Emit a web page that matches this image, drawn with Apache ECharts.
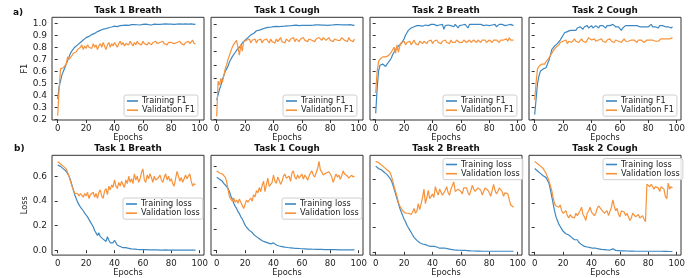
<!DOCTYPE html>
<html><head><meta charset="utf-8">
<script src="https://cdn.jsdelivr.net/npm/echarts@6/dist/echarts.min.js"></script>
<style>html,body{margin:0;padding:0;background:#fff}#c{width:697px;height:278px}</style>
</head><body><div id="c"></div>
<script>
// ---------- DATA ----------
const panelTitles = ['Task 1 Breath', 'Task 1 Cough', 'Task 2 Breath', 'Task 2 Cough'];
const xTicks = [0, 20, 40, 60, 80, 100];
const f1TicksA = [0.2, 0.3, 0.4, 0.5, 0.6, 0.7, 0.8, 0.9, 1.0];
const f1TicksB = [0.3, 0.4, 0.5, 0.6, 0.7, 0.8, 0.9, 1.0];
const lossTicksA = [0.0, 0.2, 0.4, 0.6];
const lossTicksB = [0.0, 0.2, 0.4, 0.6, 0.8];

const t1bF1Train = [0.37,0.47,0.52,0.57,0.60,0.63,0.66,0.69,0.72,0.75,
 0.77,0.78,0.80,0.81,0.82,0.83,0.84,0.855,0.86,0.87,
 0.88,0.885,0.89,0.90,0.905,0.91,0.915,0.92,0.93,0.935,
 0.94,0.945,0.95,0.952,0.955,0.96,0.962,0.965,0.968,0.972,
 0.975,0.976,0.972,0.978,0.98,0.978,0.982,0.98,0.984,0.986,
 0.982,0.986,0.988,0.984,0.988,0.99,0.987,0.99,0.985,0.99,
 0.99,0.988,0.992,0.99,0.988,0.991,0.985,0.99,0.992,0.99,
 0.99,0.993,0.99,0.988,0.992,0.99,0.994,0.99,0.992,0.99,
 0.992,0.995,0.99,0.996,0.992,0.99,0.994,0.996,0.992,0.99,
 0.994,0.996,0.992,0.99,0.994,0.992,0.99,0.992];
const t1bF1Val = [0.23,0.45,0.62,0.61,0.63,0.64,0.66,0.72,0.70,0.71,
 0.73,0.75,0.74,0.76,0.78,0.77,0.80,0.82,0.78,0.81,
 0.79,0.82,0.80,0.81,0.79,0.83,0.80,0.82,0.78,0.81,
 0.83,0.80,0.84,0.81,0.78,0.82,0.84,0.80,0.83,0.81,
 0.84,0.82,0.80,0.83,0.85,0.82,0.84,0.81,0.83,0.84,
 0.82,0.85,0.83,0.81,0.84,0.82,0.85,0.83,0.84,0.82,
 0.85,0.83,0.84,0.82,0.84,0.83,0.82,0.84,0.83,0.85,
 0.83,0.82,0.84,0.83,0.85,0.83,0.84,0.82,0.84,0.83,
 0.84,0.85,0.83,0.82,0.84,0.83,0.85,0.83,0.84,0.82,
 0.84,0.83,0.85,0.83,0.84,0.86,0.83,0.83];
const t1cF1Train = [0.44,0.48,0.52,0.55,0.59,0.62,0.65,0.67,0.69,0.72,
 0.74,0.76,0.77,0.79,0.80,0.82,0.83,0.84,0.86,0.87,
 0.88,0.89,0.90,0.91,0.92,0.93,0.93,0.94,0.95,0.95,
 0.955,0.96,0.962,0.965,0.97,0.968,0.975,0.978,0.976,0.98,
 0.98,0.978,0.982,0.984,0.98,0.985,0.983,0.987,0.984,0.988,
 0.986,0.99,0.987,0.989,0.99,0.988,0.991,0.99,0.988,0.992,
 0.99,0.991,0.989,0.993,0.99,0.992,0.99,0.994,0.991,0.99,
 0.993,0.991,0.994,0.99,0.992,0.995,0.991,0.993,0.99,0.994,
 0.992,0.995,0.993,0.991,0.995,0.993,0.996,0.992,0.994,0.995,
 0.993,0.996,0.994,0.992,0.995,0.993,0.99,0.992];
const t1cF1Val = [0.32,0.58,0.55,0.60,0.57,0.62,0.67,0.70,0.74,0.77,
 0.80,0.83,0.85,0.86,0.88,0.89,0.77,0.85,0.80,0.87,
 0.86,0.88,0.87,0.89,0.86,0.88,0.87,0.89,0.86,0.88,
 0.87,0.89,0.86,0.88,0.87,0.89,0.88,0.86,0.89,0.87,
 0.88,0.86,0.89,0.87,0.88,0.90,0.87,0.88,0.86,0.89,
 0.88,0.87,0.89,0.88,0.90,0.87,0.89,0.88,0.87,0.89,
 0.88,0.90,0.88,0.89,0.87,0.89,0.90,0.88,0.89,0.87,
 0.89,0.88,0.90,0.89,0.88,0.90,0.89,0.88,0.89,0.90,
 0.88,0.89,0.87,0.89,0.90,0.88,0.89,0.88,0.90,0.89,
 0.88,0.89,0.87,0.90,0.88,0.89,0.87,0.89];
const t2bF1Train = [0.25,0.45,0.60,0.65,0.64,0.66,0.65,0.64,0.66,0.67,
 0.69,0.71,0.74,0.76,0.78,0.79,0.81,0.82,0.83,0.85,
 0.87,0.90,0.92,0.94,0.95,0.96,0.96,0.97,0.97,0.98,
 0.975,0.98,0.985,0.975,0.98,0.985,0.99,0.98,0.985,0.99,
 0.98,0.99,0.985,0.98,0.99,0.985,0.975,0.99,0.95,0.98,
 0.99,0.985,0.99,0.98,0.99,0.97,0.99,0.985,0.96,0.98,
 0.99,0.985,0.99,0.99,0.98,0.96,0.99,0.98,0.99,0.985,
 0.99,0.98,0.99,0.985,0.99,0.99,0.98,0.99,0.985,0.99,
 0.98,0.99,0.985,0.99,0.99,0.97,0.98,0.99,0.985,0.99,
 0.99,0.98,0.99,0.985,0.99,0.99,0.975,0.98];
const t2bF1Val = [0.42,0.60,0.68,0.70,0.71,0.72,0.71,0.72,0.72,0.73,
 0.74,0.76,0.77,0.80,0.75,0.82,0.76,0.81,0.84,0.83,
 0.85,0.82,0.84,0.83,0.85,0.82,0.84,0.86,0.83,0.84,
 0.82,0.85,0.84,0.83,0.85,0.84,0.83,0.85,0.84,0.86,
 0.83,0.85,0.84,0.86,0.84,0.85,0.83,0.85,0.84,0.86,
 0.84,0.85,0.83,0.86,0.84,0.85,0.84,0.86,0.85,0.84,
 0.85,0.84,0.86,0.85,0.84,0.85,0.86,0.84,0.85,0.86,
 0.85,0.84,0.86,0.85,0.84,0.86,0.85,0.86,0.84,0.85,
 0.86,0.85,0.84,0.86,0.85,0.86,0.85,0.84,0.86,0.85,
 0.86,0.85,0.87,0.85,0.88,0.86,0.85,0.86];
const t2cF1Train = [0.24,0.37,0.50,0.56,0.60,0.61,0.62,0.62,0.63,0.66,
 0.69,0.73,0.78,0.79,0.81,0.82,0.83,0.84,0.86,0.88,
 0.90,0.92,0.91,0.93,0.92,0.94,0.93,0.94,0.95,0.94,
 0.96,0.95,0.97,0.96,0.95,0.97,0.96,0.98,0.96,0.97,
 0.98,0.96,0.97,0.98,0.97,0.96,0.98,0.97,0.98,0.97,
 0.96,0.98,0.97,0.98,0.97,0.99,0.98,0.97,0.98,0.97,
 0.96,0.94,0.96,0.97,0.98,0.97,0.98,0.97,0.98,0.97,
 0.98,0.97,0.98,0.99,0.97,0.98,0.97,0.98,0.97,0.98,
 0.97,0.98,0.99,0.97,0.98,0.97,0.98,0.96,0.98,0.97,
 0.98,0.99,0.97,0.98,0.97,0.98,0.96,0.97];
const t2cF1Val = [0.36,0.51,0.62,0.64,0.65,0.66,0.65,0.66,0.68,0.69,
 0.71,0.73,0.74,0.77,0.78,0.80,0.81,0.82,0.84,0.83,
 0.85,0.84,0.86,0.83,0.85,0.86,0.84,0.85,0.87,0.85,
 0.86,0.84,0.85,0.87,0.85,0.86,0.84,0.86,0.88,0.89,
 0.86,0.85,0.87,0.85,0.84,0.86,0.85,0.87,0.85,0.86,
 0.84,0.86,0.85,0.87,0.85,0.86,0.84,0.86,0.87,0.85,
 0.86,0.84,0.85,0.87,0.85,0.86,0.85,0.84,0.86,0.85,
 0.86,0.85,0.84,0.86,0.85,0.86,0.85,0.84,0.85,0.86,
 0.85,0.86,0.85,0.86,0.87,0.85,0.86,0.85,0.86,0.87,
 0.86,0.87,0.86,0.87,0.88,0.87,0.88,0.88];

const t1bLossTrain = [0.69,0.68,0.68,0.67,0.66,0.65,0.64,0.62,0.60,0.57,
 0.53,0.49,0.45,0.42,0.39,0.37,0.35,0.34,0.32,0.30,
 0.29,0.27,0.25,0.23,0.22,0.19,0.16,0.15,0.12,0.14,
 0.11,0.12,0.09,0.10,0.07,0.11,0.08,0.06,0.05,0.06,
 0.08,0.06,0.04,0.04,0.03,0.03,0.02,0.02,0.02,0.015,
 0.015,0.01,0.01,0.012,0.008,0.008,0.006,0.01,0.005,0.004,
 0.004,0.003,0.004,0.003,0.003,0.002,0.003,0.002,0.002,0.002,
 0.002,0.002,0.001,0.002,0.001,0.001,0.002,0.001,0.001,0.001,
 0.001,0.001,0.001,0.001,0.001,0.001,0.001,0.001,0.001,0.001,
 0.001,0.001,0.001,0.001,0.001,0.001,0.001,0.001];
const t1bLossVal = [0.72,0.71,0.70,0.69,0.68,0.67,0.66,0.63,0.60,0.56,
 0.52,0.49,0.46,0.45,0.46,0.44,0.46,0.45,0.43,0.46,
 0.44,0.47,0.42,0.45,0.44,0.47,0.43,0.46,0.42,0.47,
 0.49,0.44,0.42,0.48,0.50,0.45,0.52,0.49,0.53,0.51,
 0.57,0.52,0.50,0.55,0.52,0.56,0.53,0.51,0.57,0.54,
 0.60,0.55,0.58,0.54,0.62,0.57,0.60,0.55,0.58,0.63,
 0.66,0.57,0.55,0.61,0.58,0.62,0.59,0.55,0.60,0.57,
 0.56,0.59,0.61,0.57,0.55,0.59,0.62,0.57,0.60,0.56,
 0.58,0.54,0.52,0.58,0.64,0.60,0.56,0.59,0.55,0.58,
 0.61,0.58,0.60,0.62,0.56,0.52,0.54,0.53];
const t1cLossTrain = [0.70,0.69,0.68,0.67,0.66,0.64,0.63,0.61,0.59,0.56,
 0.52,0.49,0.45,0.42,0.40,0.37,0.35,0.32,0.30,0.27,
 0.24,0.22,0.21,0.19,0.18,0.17,0.15,0.14,0.13,0.12,
 0.11,0.10,0.09,0.09,0.08,0.07,0.07,0.06,0.06,0.06,
 0.07,0.06,0.05,0.045,0.04,0.04,0.035,0.03,0.03,0.028,
 0.026,0.025,0.023,0.022,0.02,0.02,0.018,0.017,0.016,0.015,
 0.014,0.013,0.013,0.012,0.011,0.011,0.01,0.01,0.009,0.009,
 0.008,0.008,0.008,0.007,0.007,0.007,0.006,0.006,0.006,0.006,
 0.005,0.005,0.005,0.005,0.005,0.005,0.004,0.004,0.004,0.004,
 0.004,0.004,0.004,0.004,0.004,0.004,0.004,0.004];
const t1cLossVal = [0.76,0.75,0.74,0.74,0.73,0.72,0.70,0.66,0.58,0.51,
 0.49,0.47,0.50,0.46,0.48,0.45,0.49,0.46,0.47,0.40,
 0.44,0.48,0.46,0.45,0.50,0.47,0.53,0.51,0.57,0.55,
 0.60,0.56,0.62,0.66,0.56,0.63,0.69,0.61,0.60,0.65,
 0.72,0.66,0.64,0.70,0.67,0.63,0.66,0.71,0.73,0.69,
 0.68,0.71,0.66,0.74,0.76,0.70,0.68,0.72,0.69,0.71,
 0.73,0.68,0.72,0.70,0.67,0.71,0.74,0.76,0.72,0.70,
 0.74,0.78,0.85,0.77,0.75,0.72,0.71,0.74,0.73,0.75,
 0.73,0.70,0.65,0.69,0.73,0.70,0.72,0.68,0.71,0.76,
 0.73,0.72,0.71,0.69,0.70,0.72,0.70,0.71];
const t2bLossTrain = [0.71,0.70,0.69,0.685,0.68,0.67,0.66,0.65,0.64,0.63,
 0.61,0.59,0.56,0.52,0.48,0.44,0.40,0.36,0.33,0.30,
 0.27,0.25,0.22,0.20,0.18,0.16,0.14,0.12,0.11,0.095,
 0.08,0.075,0.07,0.065,0.06,0.06,0.055,0.05,0.05,0.045,
 0.06,0.045,0.04,0.04,0.035,0.03,0.035,0.03,0.045,0.03,
 0.025,0.025,0.02,0.02,0.018,0.017,0.016,0.015,0.014,0.013,
 0.012,0.012,0.011,0.012,0.02,0.01,0.009,0.008,0.008,0.007,
 0.007,0.006,0.006,0.006,0.005,0.005,0.005,0.005,0.005,0.005,
 0.005,0.005,0.005,0.005,0.005,0.005,0.005,0.005,0.005,0.005,
 0.005,0.005,0.005,0.005,0.005,0.005,0.005,0.005];
const t2bLossVal = [0.75,0.74,0.74,0.73,0.72,0.71,0.70,0.69,0.68,0.67,
 0.66,0.63,0.59,0.54,0.50,0.46,0.41,0.38,0.36,0.34,
 0.33,0.32,0.33,0.32,0.33,0.31,0.33,0.36,0.32,0.34,
 0.40,0.35,0.36,0.45,0.52,0.40,0.45,0.51,0.44,0.46,
 0.48,0.45,0.54,0.50,0.47,0.52,0.53,0.47,0.48,0.51,
 0.54,0.49,0.47,0.52,0.55,0.58,0.50,0.49,0.52,0.51,
 0.50,0.48,0.53,0.52,0.53,0.49,0.47,0.51,0.55,0.52,
 0.50,0.49,0.53,0.54,0.51,0.47,0.50,0.53,0.52,0.51,
 0.49,0.46,0.45,0.56,0.51,0.48,0.50,0.53,0.54,0.50,
 0.46,0.49,0.50,0.48,0.49,0.39,0.38,0.37];
const t2cLossTrain = [0.69,0.68,0.67,0.66,0.65,0.645,0.63,0.62,0.615,0.60,
 0.57,0.52,0.46,0.40,0.34,0.29,0.26,0.23,0.21,0.19,
 0.17,0.16,0.15,0.145,0.14,0.13,0.12,0.11,0.10,0.09,
 0.10,0.08,0.07,0.06,0.05,0.045,0.04,0.04,0.035,0.035,
 0.035,0.03,0.03,0.03,0.025,0.025,0.02,0.02,0.02,0.018,
 0.017,0.016,0.015,0.015,0.02,0.025,0.015,0.012,0.01,0.01,
 0.009,0.008,0.008,0.008,0.007,0.007,0.006,0.006,0.006,0.006,
 0.005,0.005,0.005,0.005,0.005,0.005,0.005,0.005,0.005,0.005,
 0.005,0.005,0.005,0.005,0.005,0.005,0.005,0.005,0.005,0.005,
 0.005,0.004,0.01,0.005,0.004,0.003,0.003,0.003];
const t2cLossVal = [0.75,0.74,0.73,0.72,0.71,0.70,0.69,0.67,0.65,0.62,
 0.59,0.55,0.51,0.45,0.40,0.38,0.37,0.37,0.39,0.34,
 0.32,0.31,0.34,0.30,0.28,0.31,0.29,0.30,0.28,0.32,
 0.30,0.31,0.34,0.37,0.31,0.29,0.26,0.32,0.34,0.37,
 0.33,0.34,0.30,0.32,0.36,0.38,0.37,0.35,0.34,0.32,
 0.32,0.34,0.30,0.31,0.37,0.43,0.38,0.34,0.36,0.31,
 0.29,0.34,0.35,0.33,0.30,0.32,0.31,0.26,0.28,0.32,
 0.31,0.29,0.30,0.31,0.28,0.29,0.30,0.27,0.25,0.56,
 0.55,0.54,0.56,0.57,0.52,0.54,0.55,0.53,0.50,0.54,
 0.53,0.52,0.46,0.44,0.57,0.52,0.54,0.53];

// ---------- LAYOUT / STYLE ----------
const FONT = 'DejaVu Sans';
const BLUE = '#3d88c2', ORANGE = '#f7923a', INK = '#222', SPINE = '#333';
const lefts = [52, 211, 370, 529], W = 152;
const tops = [17.3, 155.3], H = 102.7;

const panels = [
  {row:0, col:0, train:t1bF1Train, val:t1bF1Val, names:['Training F1','Validation F1'], min:0.195, max:1.049, ticks:f1TicksA, labels:true, yname:'F1'},
  {row:0, col:1, train:t1cF1Train, val:t1cF1Val, names:['Training F1','Validation F1'], min:0.294, max:1.049, ticks:f1TicksB},
  {row:0, col:2, train:t2bF1Train, val:t2bF1Val, names:['Training F1','Validation F1'], min:0.195, max:1.049, ticks:f1TicksA},
  {row:0, col:3, train:t2cF1Train, val:t2cF1Val, names:['Training F1','Validation F1'], min:0.195, max:1.049, ticks:f1TicksA},
  {row:1, col:0, train:t1bLossTrain, val:t1bLossVal, names:['Training loss','Validation loss'], min:-0.04, max:0.77, ticks:lossTicksA, labels:true, yname:'Loss'},
  {row:1, col:1, train:t1cLossTrain, val:t1cLossVal, names:['Training loss','Validation loss'], min:-0.047, max:0.909, ticks:lossTicksB},
  {row:1, col:2, train:t2bLossTrain, val:t2bLossVal, names:['Training loss','Validation loss'], min:-0.027, max:0.80, ticks:lossTicksA},
  {row:1, col:3, train:t2cLossTrain, val:t2cLossVal, names:['Training loss','Validation loss'], min:-0.027, max:0.80, ticks:lossTicksA}
];
const legendPos = [[124,95],[283,95],[443,95],[603,95],[123,198],[282,198],[443,158.5],[603,158.5]];

const grid = [], xAxis = [], yAxis = [], series = [], legend = [], graphic = [];
panels.forEach((p, i) => {
  grid.push({left: lefts[p.col], top: tops[p.row], width: W, height: H, show: true,
    borderColor: SPINE, borderWidth: 1, backgroundColor: 'transparent', containLabel: false});
  xAxis.push({type:'value', gridIndex:i, min:-4, max:103,
    axisLine:{show:false}, splitLine:{show:false},
    axisTick:{show:true, inside:false, length:3, lineStyle:{color:SPINE}, customValues:xTicks},
    axisLabel:{show:true, margin:4, fontSize:8.6, fontFamily:FONT, color:INK, customValues:xTicks},
    name:'Epochs', nameLocation:'middle', nameGap:12.5,
    nameTextStyle:{fontSize:8.2, fontFamily:FONT, color:INK}});
  yAxis.push({type:'value', gridIndex:i, min:p.min, max:p.max,
    axisLine:{show:false}, splitLine:{show:false},
    axisTick:{show:true, inside:false, length:3, lineStyle:{color:SPINE}, customValues:p.ticks},
    axisLabel:{show:!!p.labels, margin:5, fontSize:9, fontFamily:FONT, color:INK,
      customValues:p.ticks, formatter:v => Number(v).toFixed(1)},
    name:p.yname || '', nameLocation:'middle', nameGap:20, nameRotate:90,
    nameTextStyle:{fontSize:8.2, fontFamily:FONT, color:INK}});
  const mk = arr => arr.map((v, e) => [e, v]);
  series.push({type:'line', name:p.names[0], xAxisIndex:i, yAxisIndex:i, data:mk(p.train),
    showSymbol:false, symbol:'none', lineStyle:{color:BLUE, width:1.2}, itemStyle:{color:BLUE}, animation:false, silent:true});
  series.push({type:'line', name:p.names[1], xAxisIndex:i, yAxisIndex:i, data:mk(p.val),
    showSymbol:false, symbol:'none', lineStyle:{color:ORANGE, width:1.2}, itemStyle:{color:ORANGE}, animation:false, silent:true});
  legend.push({show:true, left:legendPos[i][0], top:legendPos[i][1], orient:'vertical',
    data:p.names, icon:'rect', itemWidth:11, itemHeight:1.6, itemGap:1.2,
    padding:[2,3,2,3], backgroundColor:'rgba(255,255,255,0.85)', borderColor:'#cfcfcf',
    borderWidth:1, borderRadius:2, selectedMode:false,
    textStyle:{fontSize:8.2, fontFamily:FONT, color:INK, padding:[0,0,0,-1]}});
});
panelTitles.forEach((t, c) => {
  [11, 149].forEach(y => graphic.push({type:'text', x: lefts[c] + W / 2, y: y,
    style:{text:t, font:'bold 8.8px "DejaVu Sans"', fill:'#111', textAlign:'center', textVerticalAlign:'middle'}}));
});
graphic.push({type:'text', x:13, y:12.5, style:{text:'a)', font:'bold 9px "DejaVu Sans"', fill:'#111', textVerticalAlign:'middle'}});
graphic.push({type:'text', x:14, y:149, style:{text:'b)', font:'bold 9px "DejaVu Sans"', fill:'#111', textVerticalAlign:'middle'}});

const chart = echarts.init(document.getElementById('c'), null, {renderer:'canvas'});
chart.setOption({animation:false, backgroundColor:'#fff', grid, xAxis, yAxis, series, legend, graphic});
</script></body></html>
